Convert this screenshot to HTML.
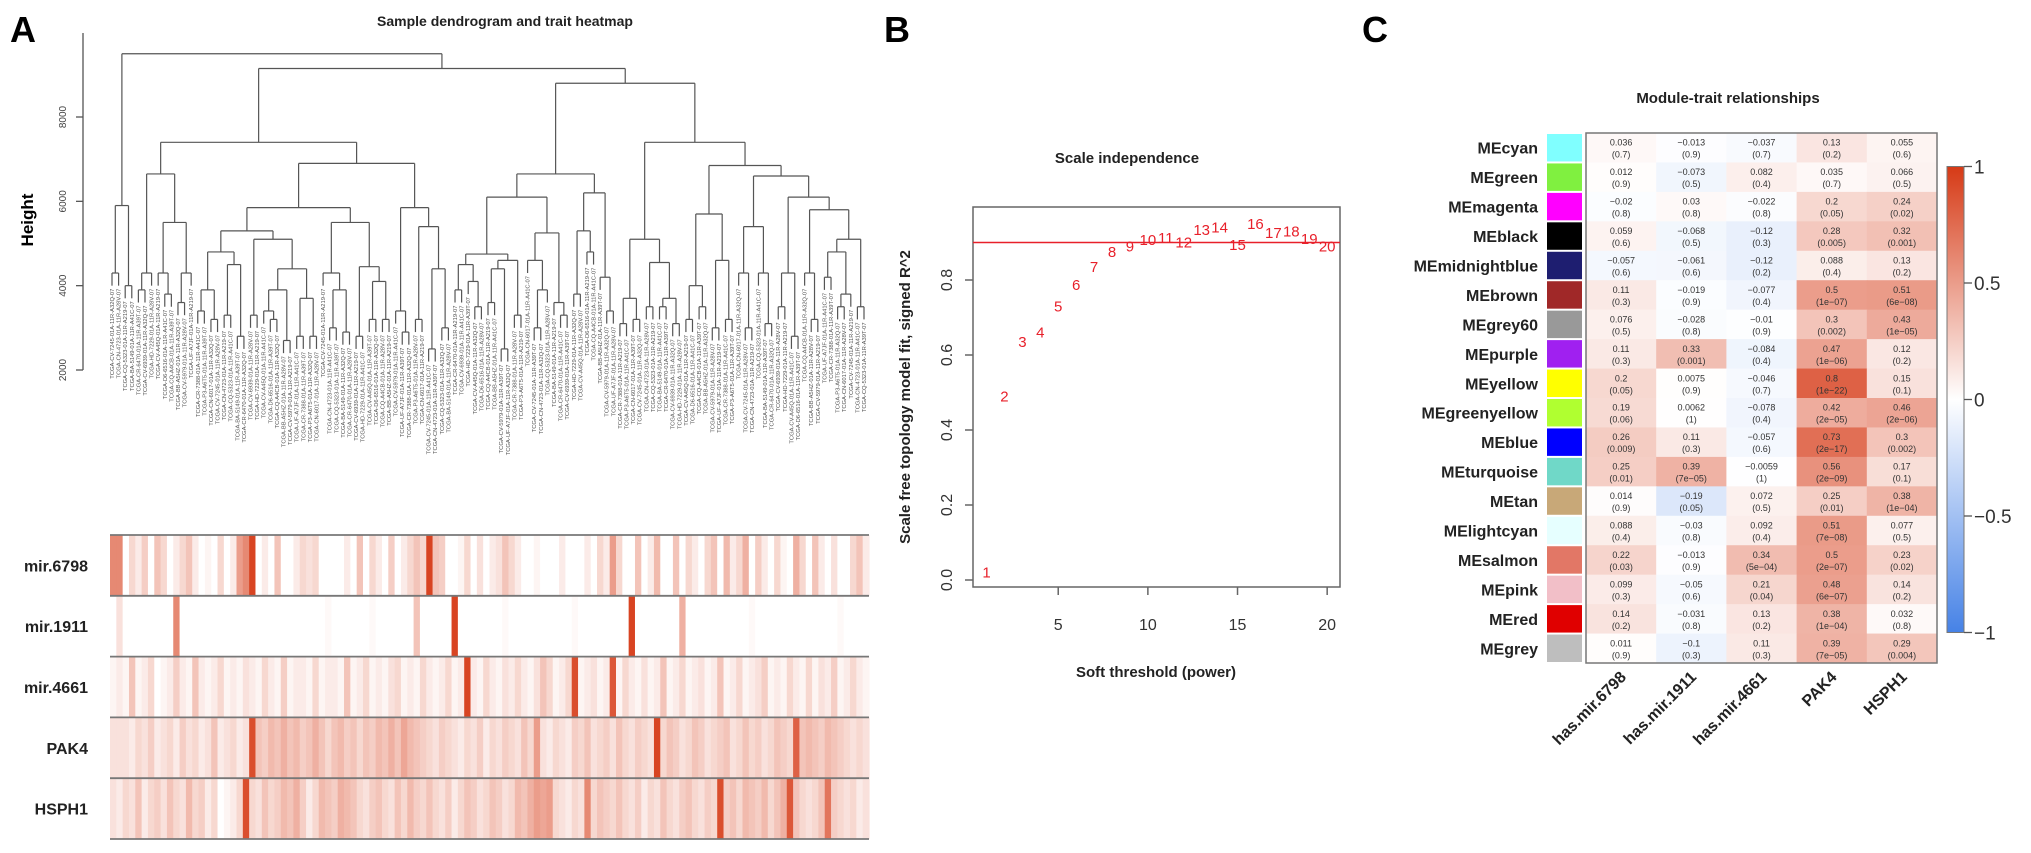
<!DOCTYPE html>
<html><head><meta charset="utf-8"><style>
html,body{margin:0;padding:0;background:#fff}
svg{display:block;font-family:"Liberation Sans",sans-serif}
</style></head><body>
<svg id="fig" width="2031" height="853" viewBox="0 0 2031 853" xmlns="http://www.w3.org/2000/svg">
<rect width="2031" height="853" fill="#fff"/>
<text x="10" y="42" font-size="36" font-weight="bold">A</text>
<text x="884" y="42" font-size="36" font-weight="bold">B</text>
<text x="1362" y="42" font-size="36" font-weight="bold">C</text>
<text x="505" y="26" font-size="14" font-weight="bold" fill="#222" text-anchor="middle">Sample dendrogram and trait heatmap</text>
<text transform="translate(33,220) rotate(-90)" font-size="17" font-weight="bold" text-anchor="middle">Height</text>
<g id="gA"></g>
<text x="1127" y="163" font-size="15" font-weight="bold" fill="#222" text-anchor="middle">Scale independence</text>
<text x="1156" y="677" font-size="15" font-weight="bold" fill="#222" text-anchor="middle">Soft threshold (power)</text>
<text transform="translate(910,397) rotate(-90)" font-size="15" font-weight="bold" fill="#222" text-anchor="middle">Scale free topology model fit, signed R^2</text>
<g id="gB"></g>
<text x="1728" y="103" font-size="15" font-weight="bold" fill="#222" text-anchor="middle">Module-trait relationships</text>
<g id="gC"></g>
</svg>
<script>
// ---------- Panel A data ----------
const traitNames = ["mir.6798","mir.1911","mir.4661","PAK4","HSPH1"];
const mir6798 = [0.6,0.6,0,0.2,0.1,0.25,0,0.3,0.2,0, 0.1,0.2,0.3,0.1,0,0.05,0,0.2,0,0.1, 0.5,0.6,0.95,0,0.1,0,0.3,0,0,0.1, 0.2,0.15,0.2,0,0,0,0,0.1,0,0.3, 0,0.2,0.1,0,0.25,0,0.1,0.2,0.3,0.2, 0.95,0.3,0.25,0,0,0.05,0.2,0,0.15,0, 0.1,0.15,0.3,0.2,0.1,0,0,0.05,0,0, 0,0.1,0,0,0,0.1,0,0.2,0.1,0.5, 0.2,0,0,0.3,0,0.1,0.35,0,0,0.3, 0,0.2,0.1,0,0.2,0.3,0,0.35,0.1,0.2, 0.4,0,0.25,0.1,0,0.2,0.05,0,0.4,0.2, 0,0.3,0.1,0,0.15,0,0,0.2,0.3,0.1];
const mir1911 = [0,0.15,0,0,0,0,0,0,0,0, 0.6,0,0,0,0,0,0,0,0,0, 0,0,0,0,0,0,0,0,0,0, 0,0,0,0,0.03,0,0,0,0,0, 0,0.03,0,0,0,0,0,0,0.3,0, 0,0,0,0,0.95,0,0,0,0,0, 0,0,0.03,0,0,0,0,0,0,0, 0,0,0,0.03,0,0,0,0,0,0, 0,0,0.95,0,0,0,0,0,0,0, 0.4,0,0,0,0,0,0,0,0,0, 0,0.03,0,0,0,0,0,0,0,0, 0,0,0,0,0,0.03,0,0,0,0];
const mir4661 = [0.05,0.1,0.05,0.3,0.05,0.1,0.2,0,0.05,0.1, 0.25,0.1,0.05,0.3,0.1,0.05,0.1,0.2,0.05,0.1, 0.05,0.15,0.1,0.05,0.2,0.1,0.05,0.25,0.05,0.1, 0.1,0.05,0.2,0.05,0.1,0.1,0.05,0.3,0.05,0.1, 0.2,0.05,0.1,0.05,0.15,0.2,0.05,0.1,0.05,0.2, 0.1,0.05,0.1,0.2,0.05,0.1,0.95,0.1,0.05,0.2, 0.1,0.05,0.15,0.1,0.2,0.1,0.05,0.15,0.3,0.2, 0.05,0.1,0.2,0.9,0.05,0.1,0.15,0.05,0.1,0.85, 0.05,0.2,0.1,0.05,0.15,0.05,0.1,0.3,0.05,0.1, 0.2,0.05,0.1,0.15,0.05,0.1,0.3,0.05,0.1,0.2, 0.05,0.1,0.15,0.25,0.05,0.1,0.05,0.2,0.1,0.05, 0.2,0.05,0.15,0.1,0.25,0.05,0.1,0.2,0.1,0.05];
const pak4 = [0.15,0.15,0.15,0.1,0.2,0.15,0.25,0.1,0.15,0.2, 0.1,0.25,0.15,0.2,0.1,0.15,0.3,0.1,0.15,0.2, 0.1,0.15,0.9,0.3,0.25,0.35,0.3,0.4,0.3,0.35, 0.25,0.3,0.4,0.3,0.2,0.3,0.35,0.25,0.3,0.2, 0.3,0.25,0.35,0.3,0.4,0.3,0.45,0.35,0.3,0.25, 0.2,0.15,0.25,0.2,0.15,0.1,0.2,0.15,0.25,0.1, 0.2,0.15,0.25,0.2,0.15,0.3,0.2,0.5,0.15,0.1, 0.2,0.15,0.1,0.25,0.2,0.3,0.15,0.2,0.25,0.15, 0.3,0.2,0.15,0.25,0.2,0.15,0.95,0.2,0.3,0.25, 0.15,0.2,0.3,0.25,0.15,0.2,0.25,0.3,0.15,0.2, 0.3,0.2,0.25,0.15,0.2,0.3,0.25,0.2,0.8,0.3, 0.35,0.3,0.25,0.35,0.3,0.25,0.2,0.15,0.2,0.15];
const hsph1 = [0.15,0.1,0.2,0.15,0.3,0.1,0.2,0.25,0.15,0.3, 0.2,0.15,0.35,0.2,0.25,0.1,0.2,0,0.05,0.1, 0.2,0.9,0.2,0.15,0.3,0.2,0.25,0.35,0.3,0.4, 0.25,0.1,0.2,0.35,0.3,0.25,0.4,0.35,0.3,0.2, 0.15,0.25,0.3,0.2,0.15,0.3,0.2,0.35,0.25,0.2, 0.3,0.2,0.15,0.25,0.1,0.2,0.3,0.25,0.15,0.2, 0.3,0.25,0.15,0.2,0.35,0.3,0.4,0.5,0.45,0.5, 0.2,0.15,0.1,0.2,0.15,0.6,0.2,0.3,0.25,0.2, 0.3,0.2,0.15,0.25,0.1,0.2,0.15,0.3,0.2,0.15, 0.25,0.3,0.2,0.15,0.25,0.2,0.9,0.25,0.3,0.2, 0.35,0.3,0.25,0.35,0.2,0.3,0.4,0.85,0.3,0.2, 0.15,0.2,0.3,0.7,0.25,0.2,0.15,0.2,0.1,0.15];
const heightTicks = [2000,4000,6000,8000];
// tree: [heightThousands, left, right]; 0 = leaf
const tree = [9.5,
 [5.9,[4.3,0,0],[4.0,0,0]],
 [9.15,
  [7.4,
   [6.65,[4.3,[3.9,0,0],0],[5.5,[4.3,0,[3.8,0,0]],[4.3,[3.6,0,0],0]]],
   [6.9,
    [5.85,
     [5.3,[4.8,[3.9,[3.4,0,0],[3.2,0,0]],[4.5,[3.3,0,0],[2.8,0,0]]],[5.1,[3.3,0,0],[4.4,[3.9,[3.4,0,[3.2,0,0]],[2.7,0,0]],[3.7,[2.8,0,0],[2.8,0,0]]]]],
     [5.5,[4.3,0,[3.9,[3.0,0,0],[2.9,0,0]]],[4.45,[2.8,0,0],[4.1,[3.2,0,0],[3.2,0,0]]]]],
    [5.85,[3.4,0,[2.9,0,0]],[5.4,[3.2,0,0],[4.4,[2.5,0,0],[3.0,0,0]]]]]],
  [8.8,
   [6.65,
    [6.1,[4.75,[4.5,[3.9,0,0],[4.1,0,[3.5,0,0]]],[4.6,[4.4,[3.6,0,0],[2.5,0,0]],[3.3,0,0]]],[5.25,[4.6,0,[3.9,[3.0,0,0],0]],[3.6,0,[3.3,0,0]]]],
    [6.2,[5.3,[3.8,0,0],[4.8,0,0]],[4.2,0,[3.4,0,0]]]],
   [7.4,
    [5.1,[3.7,[3.1,0,0],[3.2,0,0]],[4.55,[3.5,0,0],[3.7,[3.5,0,0],[3.1,0,0]]]],
    [6.85,[5.7,[4.0,[3.2,0,0],[3.5,0,0]],[4.6,[3.0,0,0],[3.2,0,0]]],
     [6.6,[5.4,[4.3,0,[3.0,0,0]],[4.3,0,[3.1,0,0]]],[6.1,[4.3,[3.5,0,0],[2.8,0,0]],[5.8,[4.3,0,[3.2,0,0]],[5.1,[4.8,[4.2,0,0],[3.8,[3.5,0,0],0]],[3.5,0,0]]]]]]]]]];
const sampleCodes = ["CV-7245","CN-4723","CQ-5323","BA-5149","CR-6470","CV-6939","HD-7229","CV-A45Q","D6-6516","CQ-A4CB","BB-A5HZ","CV-5979","UF-A7JF","CR-7388","P3-A6T5","CN-6017"];
const sampleSuffix = ["01A-11R-A32Q-07","01A-11R-A28V-07","01A-11R-A219-07","01A-11R-A41C-07","01A-11R-A39T-07"];

// ---------- Panel B data ----------
const powers = [1,2,3,4,5,6,7,8,9,10,11,12,13,14,15,16,17,18,19,20];
const fitR2 = [0.02,0.49,0.635,0.66,0.73,0.787,0.835,0.875,0.89,0.907,0.912,0.9,0.933,0.94,0.893,0.95,0.925,0.93,0.91,0.89];
const bXTicks = [5,10,15,20];
const bYTicks = [0,0.2,0.4,0.6,0.8];
const cutoffR2 = 0.9;

// ---------- Panel C data ----------
const modules = ["MEcyan","MEgreen","MEmagenta","MEblack","MEmidnightblue","MEbrown","MEgrey60","MEpurple","MEyellow","MEgreenyellow","MEblue","MEturquoise","MEtan","MElightcyan","MEsalmon","MEpink","MEred","MEgrey"];
const moduleColors = ["#80FFFF","#80F040","#FF00FF","#000000","#1E1E70","#A02828","#999999","#A020F0","#FFFF00","#B0FF30","#0000FF","#70D8C8","#C8A878","#E6FFFF","#E27766","#F2BFC8","#E00000","#BEBEBE"];
const traits = ["has.mir.6798","has.mir.1911","has.mir.4661","PAK4","HSPH1"];
const corMir6798 = [0.036,0.012,-0.02,0.059,-0.057,0.11,0.076,0.11,0.2,0.19,0.26,0.25,0.014,0.088,0.22,0.099,0.14,0.011];
const corMir1911 = [-0.013,-0.073,0.03,-0.068,-0.061,-0.019,-0.028,0.33,0.0075,0.0062,0.11,0.39,-0.19,-0.03,-0.013,-0.05,-0.031,-0.1];
const corMir4661 = [-0.037,0.082,-0.022,-0.12,-0.12,-0.077,-0.01,-0.084,-0.046,-0.078,-0.057,-0.0059,0.072,0.092,0.34,0.21,0.13,0.11];
const corPak4 = [0.13,0.035,0.2,0.28,0.088,0.5,0.3,0.47,0.8,0.42,0.73,0.56,0.25,0.51,0.5,0.48,0.38,0.39];
const corHsph1 = [0.055,0.066,0.24,0.32,0.13,0.51,0.43,0.12,0.15,0.46,0.3,0.17,0.38,0.077,0.23,0.14,0.032,0.29];
const pMir6798 = ["0.7","0.9","0.8","0.6","0.6","0.3","0.5","0.3","0.05","0.06","0.009","0.01","0.9","0.4","0.03","0.3","0.2","0.9"];
const pMir1911 = ["0.9","0.5","0.8","0.5","0.6","0.9","0.8","0.001","0.9","1","0.3","7e\u221205","0.05","0.8","0.9","0.6","0.8","0.3"];
const pMir4661 = ["0.7","0.4","0.8","0.3","0.2","0.4","0.9","0.4","0.7","0.4","0.6","1","0.5","0.4","5e\u221204","0.04","0.2","0.3"];
const pPak4 = ["0.2","0.7","0.05","0.005","0.4","1e\u221207","0.002","1e\u221206","1e\u221222","2e\u221205","2e\u221217","2e\u221209","0.01","7e\u221208","2e\u221207","6e\u221207","1e\u221204","7e\u221205"];
const pHsph1 = ["0.6","0.5","0.02","0.001","0.2","6e\u221208","1e\u221205","0.2","0.1","2e\u221206","0.002","0.1","1e\u221204","0.5","0.02","0.2","0.8","0.004"];
const legendTicks = [1,0.5,0,-0.5,-1];

const NS = "http://www.w3.org/2000/svg";
function mk(parent, tag, attrs, txt){const e=document.createElementNS(NS,tag);for(const k in attrs)e.setAttribute(k,attrs[k]);if(txt!==undefined)e.textContent=txt;parent.appendChild(e);return e;}
function fmt(v){return (v<0?"\u2212":"")+String(Math.abs(v));}
function redScale(v){v=Math.max(0,Math.min(1,v));const r=Math.round(255+(214-255)*v),g=Math.round(255+(58-255)*v),b=Math.round(255+(22-255)*v);return `rgb(${r},${g},${b})`;}
function divScale(v){if(v>=0)return redScale(v);const t=Math.min(1,-v);const r=Math.round(255+(70-255)*t),g=Math.round(255+(130-255)*t),b=Math.round(255+(230-255)*t);return `rgb(${r},${g},${b})`;}

// ---------- Panel A ----------
(function(){
 const g=document.getElementById('gA');
 const yH=h=>370-(h-2000)*253/6000;
 const ax=mk(g,'line',{x1:83,y1:33,x2:83,y2:370,stroke:'#555','stroke-width':1.3});
 
 
 heightTicks.forEach(t=>{
  const tk=mk(g,'line',{x1:76,x2:83,y1:yH(t),y2:yH(t),stroke:'#555','stroke-width':1.3});
  
  
  const lb=mk(g,'text',{transform:`translate(66,${yH(t)}) rotate(-90)`,'font-size':10,fill:'#444','text-anchor':'middle'},String(t));
  
  
 });
 let leaves=[];
 (function walk(n){if(n===0){leaves.push(0);return;}walk(n[1]);walk(n[2]);})(tree);
 const N=leaves.length, x0=112, x1=864, dx=(x1-x0)/(N-1);
 let li=0; const segs=[]; const leafInfo=[];
 function lay(n,parentH){
  if(n===0){const x=x0+dx*(li++);const hb=parentH*1000-300;leafInfo.push({x,hb});return {x,h:hb/1000};}
  const a=lay(n[1],n[0]),b=lay(n[2],n[0]);
  const x=(a.x+b.x)/2;
  segs.push([a.x,yH(a.h*1000),a.x,yH(n[0]*1000)]);
  segs.push([b.x,yH(b.h*1000),b.x,yH(n[0]*1000)]);
  segs.push([a.x,yH(n[0]*1000),b.x,yH(n[0]*1000)]);
  return {x,h:n[0]};
 }
 lay(tree,10);
 const dg=mk(g,'g',{stroke:'#555','stroke-width':1.2,fill:'none'});
 
 
 segs.forEach(s=>mk(dg,'line',{x1:s[0],y1:s[1],x2:s[2],y2:s[3]}));
 const lg=mk(g,'g',{'font-size':5.8,fill:'#555'});
 
 
 leafInfo.forEach((L,i)=>{
  mk(lg,'text',{transform:`translate(${L.x+2},${yH(L.hb)+3}) rotate(-90)`,'text-anchor':'end'},`TCGA-${sampleCodes[i%sampleCodes.length]}-${sampleSuffix[i%sampleSuffix.length]}`);
 });
 const rows=[mir6798,mir1911,mir4661,pak4,hsph1];
 const hx0=110,hx1=869,top=535,rh=60.8;
 rows.forEach((vals,r)=>{
  const rg=mk(g,'g',{});
  
  
  const w=(hx1-hx0)/vals.length;
  vals.forEach((v,i)=>{mk(rg,'rect',{x:hx0+i*w,y:top+r*rh,width:w+0.6,height:rh,fill:redScale(v)});});
  const lb=mk(g,'text',{x:88,y:top+r*rh+rh/2+6,'font-size':16,'font-weight':'bold','text-anchor':'end',fill:'#222'},traitNames[r]);
  
  
 });
 for(let r=0;r<=5;r++){const l=mk(g,'line',{x1:hx0,x2:hx1,y1:top+r*rh,y2:top+r*rh,stroke:'#777','stroke-width':1.8});
  
  }
})();

// ---------- Panel B ----------
(function(){
 const g=document.getElementById('gB');
 const xB=p=>986.5+(p-1)*17.93, yB=v=>580-v*375;
 const box=mk(g,'rect',{x:973,y:207,width:367,height:380,fill:'none',stroke:'#666','stroke-width':1.5});
 
 
 bXTicks.forEach(t=>{
  const l=mk(g,'line',{x1:xB(t),x2:xB(t),y1:587,y2:595,stroke:'#666','stroke-width':1.5});
  
  
  const tx=mk(g,'text',{x:xB(t),y:630,'font-size':16,fill:'#333','text-anchor':'middle'},String(t));
  
  
 });
 bYTicks.forEach(t=>{
  const l=mk(g,'line',{x1:965,x2:973,y1:yB(t),y2:yB(t),stroke:'#666','stroke-width':1.5});
  
  
  const tx=mk(g,'text',{transform:`translate(952,${yB(t)}) rotate(-90)`,'font-size':16,fill:'#333','text-anchor':'middle'},t.toFixed(1));
  
  
 });
 const cl=mk(g,'line',{x1:973,x2:1340,y1:yB(cutoffR2),y2:yB(cutoffR2),stroke:'#E8202A','stroke-width':1.5});
 
 
 powers.forEach((p,i)=>{
  const t=mk(g,'text',{x:xB(p),y:yB(fitR2[i])+5,'font-size':15,fill:'#E8202A','text-anchor':'middle'},String(p));
  
  
 });
})();

// ---------- Panel C ----------
(function(){
 const g=document.getElementById('gC');
 const cx0=1586,cx1=1937,cy0=133,cy1=663;
 const cw=(cx1-cx0)/traits.length, rh=(cy1-cy0)/modules.length;
 const cors=[corMir6798,corMir1911,corMir4661,corPak4,corHsph1];
 const ps=[pMir6798,pMir1911,pMir4661,pPak4,pHsph1];
 modules.forEach((m,r)=>{
  const y=cy0+r*rh;
  const sw=mk(g,'rect',{x:1547,y:y+1,width:35,height:rh-2,fill:moduleColors[r]});
  
  
  const lb=mk(g,'text',{x:1538,y:y+rh/2+6,'font-size':16,'font-weight':'bold','text-anchor':'end',fill:'#222'},m);
  
  
  cors.forEach((col,c)=>{
   const x=cx0+c*cw;
   const cell=mk(g,'rect',{x:x,y:y,width:cw+0.5,height:rh+0.5,fill:divScale(col[r])});
   
   
   const t1=mk(g,'text',{x:x+cw/2,y:y+rh/2-2,'font-size':9,fill:'#333','text-anchor':'middle'},fmt(col[r]));
   
   
   const t2=mk(g,'text',{x:x+cw/2,y:y+rh/2+10,'font-size':9,fill:'#333','text-anchor':'middle'},'('+ps[c][r]+')');
   
   
  });
 });
 const bx=mk(g,'rect',{x:cx0,y:cy0,width:cx1-cx0,height:cy1-cy0,fill:'none',stroke:'#777','stroke-width':1.5});
 
 
 traits.forEach((t,c)=>{
  const x=cx0+c*cw+cw/2+6;
  const tx=mk(g,'text',{transform:`translate(${x},678) rotate(-45)`,'font-size':16,'font-weight':'bold','text-anchor':'end',fill:'#222'},t);
  
  
 });
 const defs=mk(g,'defs',{});
 const gr=mk(defs,'linearGradient',{id:'cbar',x1:0,y1:0,x2:0,y2:1});
 mk(gr,'stop',{offset:'0',"stop-color":divScale(1)});
 mk(gr,'stop',{offset:'0.5',"stop-color":'#fff'});
 mk(gr,'stop',{offset:'1',"stop-color":divScale(-1)});
 const ly=v=>399.5-v*233;
 const cb=mk(g,'rect',{x:1947,y:ly(1),width:17,height:ly(-1)-ly(1),fill:'url(#cbar)',stroke:'#777','stroke-width':1});
 
 
 legendTicks.forEach(v=>{
  const l=mk(g,'line',{x1:1964,x2:1972,y1:ly(v),y2:ly(v),stroke:'#555','stroke-width':1.3});
  
  
  const t=mk(g,'text',{x:1974,y:ly(v)+7,'font-size':19,fill:'#333'},fmt(v));
  
  
 });
})();
</script>
</body></html>
